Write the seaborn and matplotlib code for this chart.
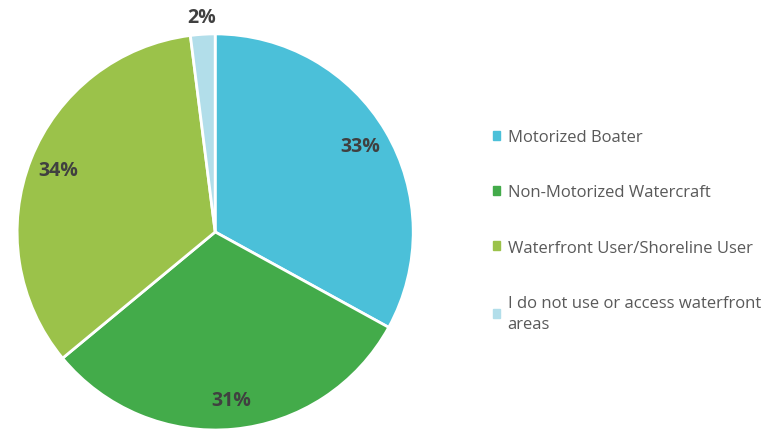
import numpy as np
import matplotlib
matplotlib.use("Agg")
import matplotlib.pyplot as plt
import seaborn as sns

# survey categories and shares (percent)
categories = ['Motorized Boater',
              'Non-Motorized Watercraft',
              'Waterfront User/Shoreline User',
              'I do not use or access waterfront\nareas']
shares = [33, 31, 34, 2]
colors = ['#4BC0D9', '#43AB4A', '#9BC24A', '#B2DEEA']

sns.set_theme(style='white')
plt.rcParams['font.family'] = ['Open Sans', 'DejaVu Sans']

fig = plt.figure(figsize=(7.74, 4.31), dpi=100)
ax = fig.add_axes([0.022, 0.0, 0.512, 0.919])

wedges, _ = ax.pie(shares, colors=colors, startangle=90, counterclock=False,
                   wedgeprops=dict(edgecolor='white', linewidth=2))
ax.set_aspect('equal')
ax.set_xlim(-1, 1)
ax.set_ylim(-1, 1)

# percentage labels placed at the wedge mid-angles
for w, s in zip(wedges, shares):
    ang = np.deg2rad((w.theta1 + w.theta2) / 2)
    dist = 1.09 if s < 5 else 0.85
    ax.text(dist * np.cos(ang), dist * np.sin(ang), f'{s}%',
            ha='center', va='center', fontsize=14, fontweight='bold',
            color='#404040')

handles = [plt.Rectangle((0, 0), 1, 1, color=c) for c in colors]
leg = fig.legend(handles, categories, loc='upper left', bbox_to_anchor=(0.617, 0.733),
                 frameon=False, fontsize=12, labelcolor='#595959',
                 handlelength=0.45, handleheight=0.45, handletextpad=0.45,
                 labelspacing=2.36)
for t in leg.get_texts():
    t.set_linespacing(1.4)

fig.savefig('out.png', dpi=100)
